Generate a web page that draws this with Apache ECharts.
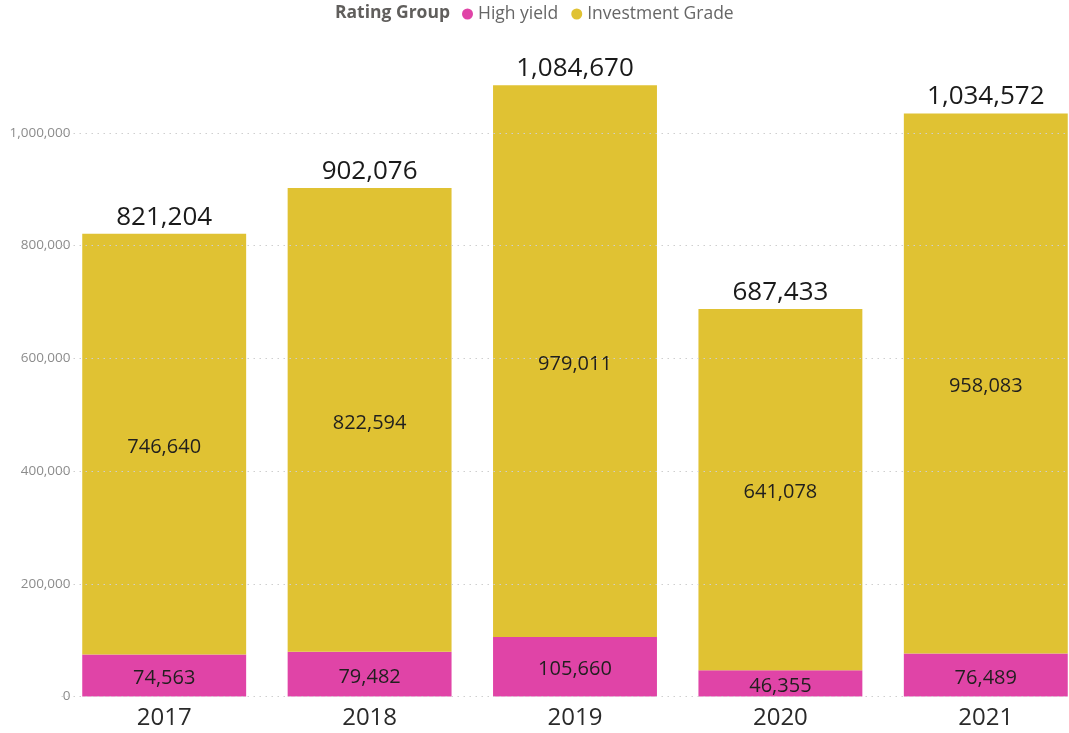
<!DOCTYPE html>
<html>
<head>
<meta charset="utf-8">
<title>Rating Group by Year</title>
<script src="https://cdn.jsdelivr.net/npm/echarts@6/dist/echarts.min.js"></script>
<style>
  html, body { margin: 0; padding: 0; background: #ffffff; overflow: hidden; }
  /* the plot runs slightly past the right edge of the window */
  #chart { width: 1090px; height: 733px; }
</style>
</head>
<body>
<div id="chart"></div>
<script>
// Issuance volume by year, split by rating group
const years = ['2017', '2018', '2019', '2020', '2021'];
const highYield = [74563, 79482, 105660, 46355, 76489];
const investmentGrade = [746640, 822594, 979011, 641078, 958083];
const totals = [821204, 902076, 1084670, 687433, 1034572];
const gridValues = [0, 200000, 400000, 600000, 800000, 1000000];

const FONT = '"Segoe UI", "Open Sans", "Noto Sans", sans-serif';
const fmt = v => Number(v).toLocaleString('en-US');

const chart = echarts.init(document.getElementById('chart'));

chart.setOption({
  animation: false,
  textStyle: { fontFamily: FONT },
  title: {
    text: 'Rating Group',
    left: 335,
    top: 4,
    padding: 0,
    textStyle: { fontFamily: FONT, fontSize: 17.5, fontWeight: 'bold', color: '#605E5C' }
  },
  legend: {
    data: ['High yield', 'Investment Grade'],
    left: 462,
    top: 5,
    padding: 0,
    icon: 'circle',
    itemWidth: 11,
    itemHeight: 11,
    itemGap: 13,
    textStyle: { fontFamily: FONT, fontSize: 17.5, color: '#666666' }
  },
  grid: { left: 61.5, right: 1.5, top: 76.5, bottom: 36.5, containLabel: false },
  xAxis: {
    type: 'category',
    data: years,
    axisLine: { show: false },
    axisTick: { show: false },
    axisLabel: { fontFamily: FONT, fontSize: 24, color: '#2a2a2a', margin: 10 }
  },
  yAxis: {
    type: 'value',
    min: 0,
    max: 1100000,
    interval: 200000,
    splitLine: { show: false },
    axisLine: { show: false },
    axisTick: { show: false },
    axisLabel: {
      fontFamily: FONT,
      fontSize: 13.5,
      color: '#8c8c8c',
      margin: -9,
      showMaxLabel: false,
      formatter: v => fmt(v)
    }
  },
  series: [
    {
      // dotted horizontal gridlines, kept beneath the bars
      name: 'grid',
      type: 'line',
      data: [],
      z: 0,
      silent: true,
      markLine: {
        silent: true,
        symbol: 'none',
        label: { show: false },
        lineStyle: { color: '#cfcfcf', type: [1.5, 4.5], width: 1 },
        data: gridValues.map(v => ({ yAxis: v }))
      }
    },
    {
      name: 'High yield',
      type: 'bar',
      stack: 'total',
      data: highYield,
      barCategoryGap: '20.2%',
      z: 2,
      itemStyle: { color: '#E044A7' },
      label: {
        show: true,
        position: 'inside',
        offset: [0, 3],
        fontFamily: FONT,
        fontSize: 20,
        color: '#201f1e',
        formatter: p => fmt(p.value)
      }
    },
    {
      name: 'Investment Grade',
      type: 'bar',
      stack: 'total',
      data: investmentGrade,
      barCategoryGap: '20.2%',
      z: 2,
      itemStyle: { color: '#E0C233' },
      label: {
        show: true,
        position: 'inside',
        offset: [0, 3],
        fontFamily: FONT,
        fontSize: 20,
        color: '#201f1e',
        formatter: p => fmt(p.value)
      }
    },
    {
      // total labels above each stack
      name: 'Total',
      type: 'scatter',
      data: totals,
      symbolSize: 1,
      z: 3,
      silent: true,
      itemStyle: { color: 'rgba(0,0,0,0)', opacity: 1 },
      label: {
        show: true,
        position: 'top',
        distance: 3,
        fontFamily: FONT,
        fontSize: 26,
        color: '#1a1a1a',
        formatter: p => fmt(p.value)
      }
    }
  ]
});
</script>
</body>
</html>
